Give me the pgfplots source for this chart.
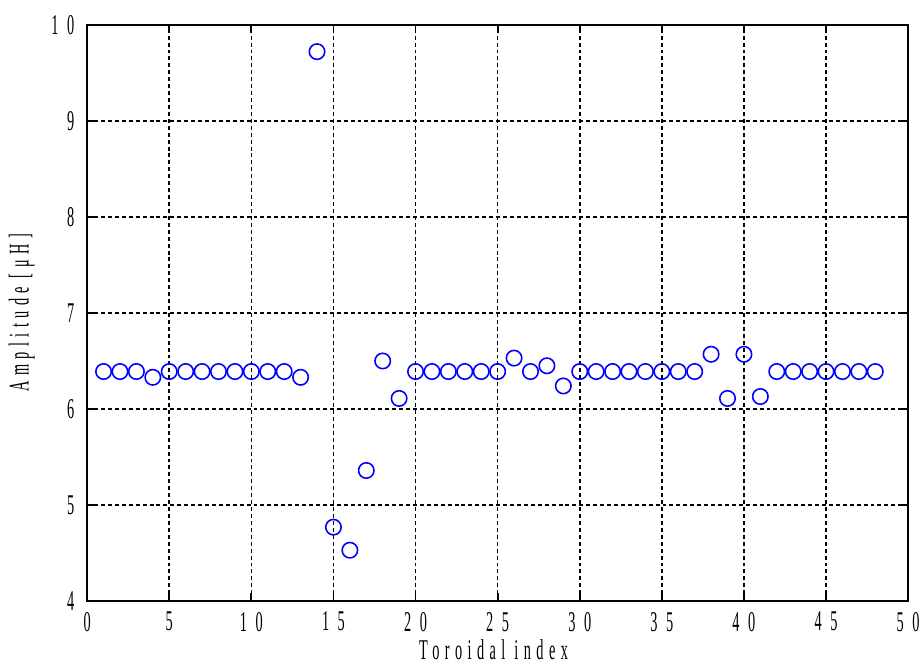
\documentclass[border=0pt]{standalone}
\usepackage{pgfplots}
\pgfplotsset{compat=1.18}
\usepackage{fontspec}
\newfontfamily\tickfont[FakeStretch=0.5,LetterSpace=30]{Liberation Serif}
\newfontfamily\labfont[FakeStretch=0.5,LetterSpace=19]{Liberation Serif}

\begin{document}
\begin{tikzpicture}
\begin{axis}[
    name=ax,
    scale only axis,
    width=414.5bp, height=291bp,
    xmin=0, xmax=50,
    ymin=4, ymax=10,
    xtick={0,5,...,50},
    ytick={4,5,...,10},
    grid=major,
    grid style={black, line width=0.8pt, dash pattern=on 2bp off 1.5bp},
    axis line style={black, line width=1.1pt},
    tick align=inside,
    major tick length=4bp,
    tick style={black, line width=0.9pt},
    /pgf/number format/assume math mode=true,
    ticklabel style={font=\tickfont\fontsize{14.5}{16}\selectfont},
    xticklabel style={yshift=-2bp},
    yticklabel style={xshift=-3bp},
    xlabel={Toroidal index},
    ylabel={Amplitude [μH]},
    every axis x label/.style={at={(axis description cs:0.495,-0.085)}, anchor=center,
        font=\labfont\fontsize{14.5}{16}\selectfont},
    every axis y label/.style={at={(axis description cs:-0.0796,0.5)}, rotate=90, anchor=center,
        font=\labfont\fontsize{14.5}{16}\selectfont},
    clip=false,
]
\addplot[only marks, mark=o, mark size=3.9bp, color={rgb,255:red,0;green,0;blue,255}, line width=0.8pt]
coordinates{
(1,6.39)(2,6.39)(3,6.39)(4,6.33)(5,6.39)(6,6.39)(7,6.39)(8,6.39)
(9,6.39)(10,6.39)(11,6.39)(12,6.39)(13,6.33)(14,9.72)(15,4.77)(16,4.53)
(17,5.36)(18,6.50)(19,6.11)(20,6.39)(21,6.39)(22,6.39)(23,6.39)(24,6.39)
(25,6.39)(26,6.53)(27,6.39)(28,6.45)(29,6.24)(30,6.39)(31,6.39)(32,6.39)
(33,6.39)(34,6.39)(35,6.39)(36,6.39)(37,6.39)(38,6.57)(39,6.11)(40,6.57)
(41,6.13)(42,6.39)(43,6.39)(44,6.39)(45,6.39)(46,6.39)(47,6.39)(48,6.39)
};
\end{axis}
% page size close to the reference's margins
\pgfresetboundingbox
\path ([xshift=-44bp,yshift=-33bp]ax.south west) rectangle ([xshift=7bp,yshift=12.5bp]ax.north east);
\end{tikzpicture}
\end{document}
